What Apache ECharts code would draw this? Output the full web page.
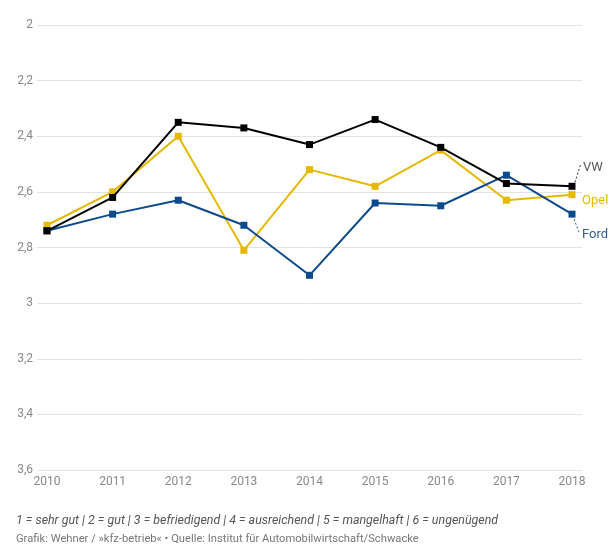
<!DOCTYPE html>
<html>
<head>
<meta charset="utf-8">
<script src="https://cdn.jsdelivr.net/npm/echarts@6/dist/echarts.min.js"></script>
<style>
html,body{margin:0;padding:0;background:#fff;}
#c{width:616px;height:548px;}
</style>
</head>
<body>
<div id="c"></div>
<script>
const years = ['2010','2011','2012','2013','2014','2015','2016','2017','2018'];
const vw   = [2.74, 2.62, 2.35, 2.37, 2.43, 2.34, 2.44, 2.57, 2.58];
const opel = [2.72, 2.60, 2.40, 2.81, 2.52, 2.58, 2.45, 2.63, 2.61];
const ford = [2.74, 2.68, 2.63, 2.72, 2.90, 2.64, 2.65, 2.54, 2.68];
const yTicks = [2, 2.2, 2.4, 2.6, 2.8, 3, 3.2, 3.4, 3.6];
const seriesNames = ['VW', 'Opel', 'Ford'];
const footnote1 = '1 = sehr gut | 2 = gut | 3 = befriedigend | 4 = ausreichend | 5 = mangelhaft | 6 = ungenügend';
const footnote2 = 'Grafik: Wehner / »kfz-betrieb« • Quelle: Institut für Automobilwirtschaft/Schwacke';

const colors = { VW: '#000000', Opel: '#e6b800', Ford: '#0d4a8c' };
const labelColors = { VW: '#555555', Opel: '#e6b800', Ford: '#2f5b95' };
const FONT = 'Roboto';

const chart = echarts.init(document.getElementById('c'), null, { renderer: 'canvas' });

function mkSeries(name, data) {
  return {
    name: name, type: 'line', data: data,
    xAxisIndex: 0, yAxisIndex: 0,
    symbol: 'rect', symbolSize: 7,
    lineStyle: { color: colors[name], width: 2 },
    itemStyle: { color: colors[name] },
    emphasis: { disabled: true },
    z: name === 'VW' ? 4 : (name === 'Ford' ? 3 : 2),
    animation: false
  };
}

const option = {
  animation: false,
  textStyle: { fontFamily: FONT },
  grid: [
    { left: 47, right: 44, top: 25, bottom: 78 },
    { left: 37, right: 34, top: 25, bottom: 78 }
  ],
  xAxis: [
    { type: 'category', gridIndex: 0, data: years, boundaryGap: false,
      axisLine: { show: false }, axisTick: { show: false }, splitLine: { show: false },
      axisLabel: { color: '#888', fontSize: 12, margin: 6, fontFamily: FONT } },
    { type: 'category', gridIndex: 1, data: years, show: false }
  ],
  yAxis: [
    { type: 'value', gridIndex: 0, inverse: true, min: 2, max: 3.6, interval: 0.2, show: false },
    { type: 'value', gridIndex: 1, inverse: true, min: 2, max: 3.6, interval: 0.2,
      axisLine: { show: false }, axisTick: { show: false },
      splitLine: { lineStyle: { color: '#e3e3e3', width: 1 } },
      axisLabel: { color: '#888', fontSize: 12, margin: 4, fontFamily: FONT,
        formatter: v => {
          const t = yTicks.find(x => Math.abs(x - v) < 1e-6);
          return t === undefined ? '' : String(t).replace('.', ',');
        } } }
  ],
  series: [mkSeries('Opel', opel), mkSeries('Ford', ford), mkSeries('VW', vw)]
};
chart.setOption(option);

const last = years.length - 1;
const pVW = chart.convertToPixel({ xAxisIndex: 0, yAxisIndex: 0 }, [last, vw[last]]);
const pOp = chart.convertToPixel({ xAxisIndex: 0, yAxisIndex: 0 }, [last, opel[last]]);
const pFo = chart.convertToPixel({ xAxisIndex: 0, yAxisIndex: 0 }, [last, ford[last]]);

const graphics = [
  { type: 'line', shape: { x1: pVW[0] + 3, y1: pVW[1] - 4, x2: pVW[0] + 9, y2: pVW[1] - 23 },
    style: { stroke: '#333', lineWidth: 1, lineDash: [2, 2] }, silent: true },
  { type: 'text', x: pVW[0] + 11, y: pVW[1] - 19,
    style: { text: 'VW', fill: labelColors.VW, font: '13px ' + FONT, textAlign: 'left', textVerticalAlign: 'middle' } },
  { type: 'text', x: pOp[0] + 10, y: pOp[1] + 6,
    style: { text: 'Opel', fill: labelColors.Opel, font: '13px ' + FONT, textAlign: 'left', textVerticalAlign: 'middle' } },
  { type: 'line', shape: { x1: pFo[0] + 2, y1: pFo[1] + 5, x2: pFo[0] + 7, y2: pFo[1] + 18 },
    style: { stroke: labelColors.Ford, lineWidth: 1, lineDash: [2, 2] }, silent: true },
  { type: 'text', x: pFo[0] + 10, y: pFo[1] + 21,
    style: { text: 'Ford', fill: labelColors.Ford, font: '13px ' + FONT, textAlign: 'left', textVerticalAlign: 'middle' } },
  { type: 'text', left: 16, top: 515,
    style: { text: footnote1, fill: '#555', font: 'italic 12.4px ' + FONT } },
  { type: 'text', left: 16, top: 534,
    style: { text: footnote2, fill: '#777', font: '11.2px ' + FONT } }
];
chart.setOption({ graphic: graphics });
</script>
</body>
</html>
